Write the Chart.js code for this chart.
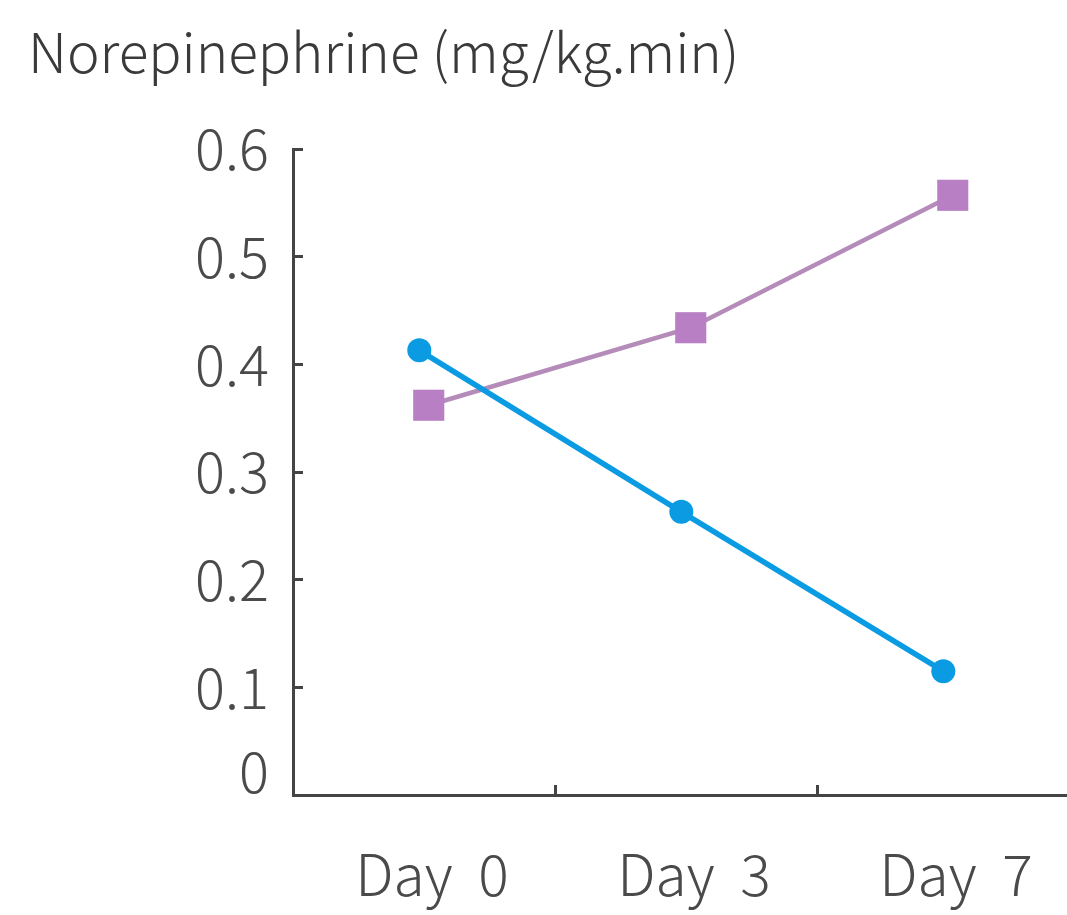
<!DOCTYPE html>
<html>
<head>
<meta charset="utf-8">
<script src="https://cdn.jsdelivr.net/npm/chart.js@4.4.1/dist/chart.umd.min.js"></script>
<style>
  html, body { margin: 0; padding: 0; background: #ffffff; overflow: hidden; }
  canvas { display: block; }
</style>
</head>
<body>
<canvas id="c" width="1067" height="915" style="width:1067px;height:915px"></canvas>
<script>
const titleText = 'Norepinephrine (mg/kg.min)';
const categories = ['Day 0', 'Day 3', 'Day 7'];
const seriesNames = ['Group A', 'Group B'];
const blueValues = [0.413, 0.263, 0.115];
const purpleValues = [0.362, 0.434, 0.557];
const yTickValues = [0, 0.1, 0.2, 0.3, 0.4, 0.5, 0.6];
const yTickLabels = ['0', '0.1', '0.2', '0.3', '0.4', '0.5', '0.6'];

const FONT = '"Noto Sans CJK SC", "Noto Sans", sans-serif';
const AXIS = '#444444';
const LABEL = '#4a4a4a';
const DODGE = 0.018;

function toPoints(values, shift) {
  return values.map((v, i) => ({ x: i + shift, y: v }));
}

// x positions: category centres at integer indices, category boundaries at half steps
const xTickValues = [];
categories.forEach((c, i) => { xTickValues.push(i); if (i < categories.length - 1) xTickValues.push(i + 0.5); });
const isCategoryTick = (v) => Number.isInteger(v);

const wordSpacingPlugin = {
  id: 'xLabelSpacing',
  afterDatasetsDraw(chart) { chart.ctx.wordSpacing = '13px'; },
  afterDraw(chart) { chart.ctx.wordSpacing = '0px'; }
};

new Chart(document.getElementById('c'), {
  type: 'line',
  data: {
    datasets: [
      {
        label: seriesNames[0],
        data: toPoints(blueValues, -DODGE),
        borderColor: '#0b9be2',
        backgroundColor: '#0b9be2',
        borderWidth: 5.5,
        pointStyle: 'circle',
        pointRadius: 12,
        pointBorderWidth: 0,
        pointBackgroundColor: '#0b9be2',
        tension: 0
      },
      {
        label: seriesNames[1],
        data: toPoints(purpleValues, DODGE),
        borderColor: '#b58bb9',
        backgroundColor: '#b97fc4',
        borderWidth: 4.5,
        pointStyle: 'rect',
        pointRadius: 22,
        pointBorderWidth: 0,
        pointBackgroundColor: '#b97fc4',
        tension: 0
      }
    ]
  },
  plugins: [wordSpacingPlugin],
  options: {
    responsive: false,
    animation: false,
    events: [],
    layout: { autoPadding: false, padding: { left: 28, top: 19, right: 0, bottom: 0 } },
    plugins: {
      legend: { display: false },
      tooltip: { enabled: false },
      title: {
        display: true,
        text: titleText,
        align: 'start',
        color: '#3a3a3a',
        font: { family: FONT, size: 55, weight: '300', lineHeight: 1.2 },
        padding: { top: 0, bottom: 64 }
      }
    },
    scales: {
      x: {
        type: 'linear',
        position: 'bottom',
        min: -0.5,
        max: 2.454,
        border: { display: true, color: AXIS, width: 3 },
        grid: {
          drawOnChartArea: false,
          drawTicks: true,
          tickLength: -10,
          tickColor: (ctx) => (ctx.tick && !isCategoryTick(ctx.tick.value)) ? AXIS : 'rgba(0,0,0,0)',
          tickWidth: 3
        },
        afterBuildTicks: (s) => { s.ticks = xTickValues.map(v => ({ value: v })); },
        ticks: {
          z: 1,
          color: LABEL,
          font: { family: FONT, size: 57, weight: '300', lineHeight: 1.2 },
          padding: 55,
          labelOffset: 8,
          maxRotation: 0,
          autoSkip: false,
          callback: (value) => isCategoryTick(value) ? categories[value] : ''
        },
        afterFit: (s) => { s.height = 120; s.paddingLeft = 0; s.paddingRight = 0; }
      },
      y: {
        type: 'linear',
        position: 'left',
        min: 0,
        max: 0.6,
        border: { display: true, color: AXIS, width: 3 },
        grid: {
          drawOnChartArea: false,
          drawTicks: true,
          tickLength: -10,
          tickColor: AXIS,
          tickWidth: 3
        },
        afterBuildTicks: (s) => { s.ticks = yTickValues.map(v => ({ value: v })); },
        ticks: {
          color: LABEL,
          padding: 34,
          font: (ctx) => ({
            family: FONT, size: 56, weight: '300',
            lineHeight: (ctx.tick && ctx.tick.value === 0) ? 0.84 : 1.2
          }),
          callback: (value) => {
            const i = yTickValues.indexOf(value);
            const label = i >= 0 ? yTickLabels[i] : '';
            return value === 0 ? [label, ''] : label;
          }
        },
        afterFit: (s) => { s.width = 265; }
      }
    }
  }
});
</script>
</body>
</html>
